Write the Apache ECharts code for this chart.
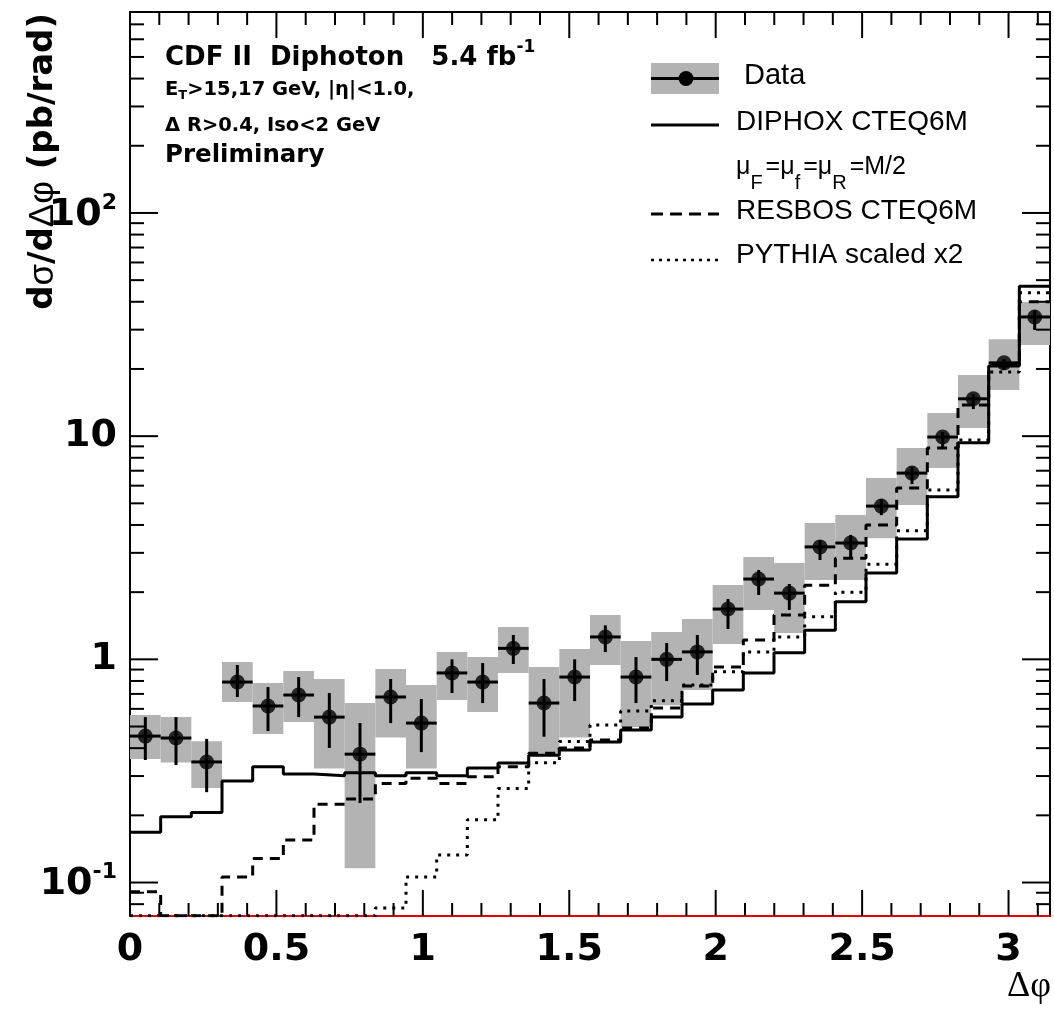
<!DOCTYPE html>
<html><head><meta charset="utf-8">
<script src="https://cdn.jsdelivr.net/npm/echarts@6/dist/echarts.min.js"></script>
<style>html,body{margin:0;padding:0;background:#fff}#c{width:1054px;height:1015px}</style>
</head><body><div id="c"></div>
<script>
// ---- bins (Δφ, 30 bins from 0 to π) ----
const BIN_EDGES = [0, 0.1047, 0.2094, 0.3142, 0.4189, 0.5236, 0.6283, 0.7330, 0.8378, 0.9425,
  1.0472, 1.1519, 1.2566, 1.3614, 1.4661, 1.5708, 1.6755, 1.7802, 1.8850, 1.9897,
  2.0944, 2.1991, 2.3038, 2.4086, 2.5133, 2.6180, 2.7227, 2.8274, 2.9322, 3.0369, 3.1416];

// ---- data (pb/rad) ----
const DATA_VALUE = [0.453,0.444,0.347,0.791,0.618,0.692,0.551,0.376,0.678,0.518,0.869,0.791,1.12,0.637,0.833,1.26,0.833,1.00,1.08,1.68,2.29,1.98,3.19,3.32,4.86,6.83,9.91,14.7,21.3,34.2];
const STAT_LOW   = [0.354,0.336,0.254,0.678,0.477,0.551,0.401,0.227,0.518,0.384,0.706,0.637,0.953,0.450,0.650,1.078,0.637,0.799,0.851,1.367,1.942,1.663,2.786,2.876,4.43,6.10,8.94,13.22,19.78,29.9];
const STAT_HIGH  = [0.551,0.551,0.440,0.943,0.751,0.833,0.706,0.518,0.816,0.664,1.00,0.962,1.285,0.816,1.00,1.42,1.024,1.183,1.285,1.863,2.512,2.175,3.42,3.61,5.23,7.27,10.43,15.44,22.15,36.7];
const TOT_LOW    = [0.358,0.345,0.265,0.644,0.463,0.524,0.324,0.116,0.447,0.324,0.657,0.581,0.868,0.376,0.447,0.943,0.497,0.622,0.729,1.171,1.663,1.312,2.266,2.266,3.49,4.91,7.20,10.87,16.09,25.6];
const TOT_HIGH   = [0.563,0.551,0.430,0.972,0.783,0.886,0.816,0.637,0.905,0.767,1.078,1.024,1.395,0.924,1.112,1.579,1.208,1.325,1.516,2.152,2.873,2.701,4.08,4.43,6.49,8.85,12.69,18.78,27.2,39.9];

// ---- theory predictions (pb/rad) ----
const DIPHOX = [0.168,0.197,0.206,0.285,0.330,0.306,0.301,0.310,0.301,0.310,0.301,0.326,0.343,0.372,0.392,0.426,0.482,0.551,0.630,0.728,0.869,1.07,1.35,1.81,2.44,3.46,5.35,9.34,20.6,47.0];
const RESBOS = [0.091,0.071,0.071,0.106,0.128,0.155,0.224,0.237,0.278,0.293,0.278,0.298,0.330,0.380,0.401,0.435,0.492,0.605,0.759,0.924,1.22,1.58,2.15,2.84,4.00,5.85,8.84,13.8,20.8,40.0];
const PYTHIA = [0.071,0.071,0.071,0.071,0.071,0.071,0.071,0.071,0.0769,0.106,0.133,0.191,0.264,0.344,0.428,0.508,0.587,0.653,0.767,0.880,1.08,1.26,1.55,2.00,2.67,3.77,5.73,9.60,19.4,43.9];

// ---- axes ----
const X_MAJOR_TICKS = [0,0.5,1,1.5,2,2.5,3];
const X_MINOR_TICKS = [0.1,0.2,0.3,0.4,0.6,0.7,0.8,0.9,1.1,1.2,1.3,1.4,1.6,1.7,1.8,1.9,2.1,2.2,2.3,2.4,2.6,2.7,2.8,2.9,3.1];
const Y_MAJOR_TICKS = [0.1,1,10,100];
const Y_MINOR_TICKS = [0.08,0.09,0.2,0.3,0.4,0.5,0.6,0.7,0.8,0.9,2,3,4,5,6,7,8,9,20,30,40,50,60,70,80,90,200,300,400,500,600,700];
const Y_TICK_LABELS = {'2':'{n|10}{sup|2}','1':'{n|10}','0':'{n|1}','-1':'{n|10}{sup|-1}'};
const Y_MIN = 0.0708, Y_MAX = 795;
const X_TITLE = 'Δφ';
const Y_TITLE = '{b|d}{s|σ}{b|/d}{s|Δφ}{b| (pb/rad)}';

const BOLD = 'DejaVu Sans';
const SANS = 'Liberation Sans';

function stepData(vals){
  const d = vals.map((v,i)=>[BIN_EDGES[i], v]);
  d.push([BIN_EDGES[vals.length], vals[vals.length-1]]);
  return d;
}
const boxData = TOT_LOW.map((lo,i)=>[BIN_EDGES[i], BIN_EDGES[i+1], lo, TOT_HIGH[i]]);
const errData = DATA_VALUE.map((v,i)=>[BIN_EDGES[i], BIN_EDGES[i+1], STAT_LOW[i], STAT_HIGH[i], v]);
const pointData = DATA_VALUE.map((v,i)=>[(BIN_EDGES[i]+BIN_EDGES[i+1])/2, v]);
const tickData = [].concat(
  X_MAJOR_TICKS.map(v=>[v,1,0]), X_MINOR_TICKS.map(v=>[v,1,1]),
  Y_MAJOR_TICKS.map(v=>[1,v,2]), Y_MINOR_TICKS.map(v=>[1,v,3]));

const chart = echarts.init(document.getElementById('c'), null, {renderer:'canvas'});

const K = '#000';
const option = {
  animation:false,
  backgroundColor:'#fff',
  grid:{left:130, right:4, top:12, bottom:99, show:true, borderColor:K, borderWidth:2, containLabel:false, outerBoundsMode:'none'},
  xAxis:{
    type:'value', min:0, max:Math.PI, interval:0.5,
    axisLine:{show:true, lineStyle:{color:'#e00000', width:2}},
    axisTick:{show:false}, splitLine:{show:false},
    axisLabel:{showMaxLabel:false, margin:15, color:K, fontFamily:BOLD, fontWeight:'bold', fontSize:38}
  },
  yAxis:{
    type:'log', logBase:10, min:Y_MIN, max:Y_MAX,
    axisLine:{show:true, lineStyle:{color:K, width:2}},
    axisTick:{show:false}, splitLine:{show:false}, minorTick:{show:false},
    axisLabel:{
      showMinLabel:false, showMaxLabel:false, margin:13, color:K,
      fontFamily:BOLD, fontWeight:'bold', fontSize:38,
      formatter:function(v){
        const l = Math.log10(v), e = Math.round(l);
        if (Math.abs(l-e) > 1e-6) return '';
        return Y_TICK_LABELS[String(e)] || '';
      },
      rich:{
        n:{fontFamily:BOLD, fontWeight:'bold', fontSize:38, color:K, verticalAlign:'bottom'},
        sup:{fontFamily:BOLD, fontWeight:'bold', fontSize:22, color:K, verticalAlign:'top', lineHeight:42}
      }
    }
  },
  series:[
    {type:'custom', name:'Data (total uncertainty)', z:1, clip:true, data:boxData,
     encode:{x:[0,1], y:[2,3]},
     renderItem:function(params, api){
       const p0 = api.coord([api.value(0), api.value(3)]);
       const p1 = api.coord([api.value(1), api.value(2)]);
       return {type:'rect', shape:{x:p0[0], y:p0[1], width:p1[0]-p0[0], height:p1[1]-p0[1]}, style:{fill:'#b3b3b3'}};
     }},
    {type:'line', name:'DIPHOX CTEQ6M', z:2, step:'end', symbol:'none', clip:true, data:stepData(DIPHOX),
     lineStyle:{color:K, width:3, type:'solid'}},
    {type:'line', name:'RESBOS CTEQ6M', z:2, step:'end', symbol:'none', clip:true, data:stepData(RESBOS),
     lineStyle:{color:K, width:3, type:[10,7]}},
    {type:'line', name:'PYTHIA scaled x2', z:2, step:'end', symbol:'none', clip:true, data:stepData(PYTHIA),
     lineStyle:{color:K, width:3, type:[3,6]}},
    {type:'custom', name:'Data errors', z:3, clip:true, data:errData,
     encode:{x:[0,1], y:[2,3,4]},
     renderItem:function(params, api){
       const a = api.coord([api.value(0), api.value(4)]);
       const b = api.coord([api.value(1), api.value(4)]);
       const xc = (a[0]+b[0])/2;
       const lo = api.coord([api.value(0), api.value(2)])[1];
       const hi = api.coord([api.value(0), api.value(3)])[1];
       const st = {stroke:K, lineWidth:3};
       return {type:'group', children:[
         {type:'line', shape:{x1:a[0], y1:a[1], x2:b[0], y2:b[1]}, style:st},
         {type:'line', shape:{x1:xc, y1:lo, x2:xc, y2:hi}, style:st}
       ]};
     }},
    {type:'scatter', name:'Data', z:4, symbol:'circle', symbolSize:15, data:pointData,
     itemStyle:{color:K}},
    {type:'custom', name:'ticks', z:5, clip:false, silent:true, data:tickData,
     encode:{x:0, y:1},
     renderItem:function(params, api){
       const cs = params.coordSys;
       const t = api.value(2);
       const st = {stroke:K, lineWidth:2};
       if (t < 2) {
         const x = api.coord([api.value(0), 1])[0];
         const L = t === 0 ? 26 : 13;
         const yb = cs.y + cs.height, yt = cs.y;
         return {type:'group', children:[
           {type:'line', shape:{x1:x, y1:yb, x2:x, y2:yb-L}, style:st},
           {type:'line', shape:{x1:x, y1:yt, x2:x, y2:yt+L}, style:st}]};
       } else {
         const y = api.coord([1, api.value(1)])[1];
         const L = t === 2 ? 28 : 14;
         const xl = cs.x, xr = cs.x + cs.width;
         return {type:'group', children:[
           {type:'line', shape:{x1:xl, y1:y, x2:xl+L, y2:y}, style:st},
           {type:'line', shape:{x1:xr, y1:y, x2:xr-L, y2:y}, style:st}]};
       }
     }}
  ],
  graphic:[
    // axis titles
    {type:'text', x:43, y:13, rotation:Math.PI/2, style:{text:Y_TITLE, align:'right', verticalAlign:'middle',
      rich:{b:{fontFamily:BOLD, fontWeight:'bold', fontSize:34, fill:K},
            s:{fontFamily:SANS, fontWeight:'normal', fontSize:35, fill:K}}}},
    {type:'text', x:1051, y:987, style:{text:X_TITLE, align:'right', verticalAlign:'middle',
      font:'36px "Liberation Serif"', fill:K}},
    // header text
    {type:'text', x:165, y:39, style:{text:'{b|CDF II  Diphoton   5.4 fb}{sup|-1}', verticalAlign:'top',
      rich:{b:{fontFamily:BOLD, fontWeight:'bold', fontSize:26, fill:K, verticalAlign:'bottom'},
            sup:{fontFamily:BOLD, fontWeight:'bold', fontSize:17, fill:K, verticalAlign:'top', lineHeight:32}}}},
    {type:'text', x:165, y:80, style:{text:'{b|E}{sub|T}{b|>15,17 GeV, |η|<1.0,}', verticalAlign:'top',
      rich:{b:{fontFamily:BOLD, fontWeight:'bold', fontSize:19.5, fill:K, verticalAlign:'top'},
            sub:{fontFamily:BOLD, fontWeight:'bold', fontSize:13, fill:K, verticalAlign:'bottom', lineHeight:22}}}},
    {type:'text', x:165, y:126, style:{text:'Δ R>0.4, Iso<2 GeV', verticalAlign:'middle',
      font:'bold 19.5px "DejaVu Sans"', fill:K}},
    {type:'text', x:165, y:156, style:{text:'Preliminary', verticalAlign:'middle',
      font:'bold 24.5px "DejaVu Sans"', fill:K}},
    // legend
    {type:'rect', shape:{x:651, y:63, width:68, height:31}, style:{fill:'#b3b3b3'}},
    {type:'line', shape:{x1:651, y1:78.5, x2:719, y2:78.5}, style:{stroke:K, lineWidth:3}},
    {type:'circle', shape:{cx:686, cy:78.5, r:7.5}, style:{fill:K}},
    {type:'text', x:744, y:76, style:{text:'Data', verticalAlign:'middle', font:'29px "Liberation Sans"', fill:K}},
    {type:'line', shape:{x1:651, y1:125, x2:719, y2:125}, style:{stroke:K, lineWidth:3}},
    {type:'text', x:736, y:122.5, style:{text:'DIPHOX CTEQ6M', verticalAlign:'middle', font:'28px "Liberation Sans"', fill:K}},
    {type:'text', x:736, y:155, style:{text:'{n|μ}{s|F}{n|=μ}{s|f}{n|=μ}{s|R}{n|=M/2}', verticalAlign:'top',
      rich:{n:{fontFamily:SANS, fontSize:25, fill:K, verticalAlign:'top'},
            s:{fontFamily:SANS, fontSize:20, fill:K, verticalAlign:'bottom', lineHeight:38, padding:[0,3,0,0]}}}},
    {type:'line', shape:{x1:651, y1:214, x2:719, y2:214}, style:{stroke:K, lineWidth:3, lineDash:[12,7]}},
    {type:'text', x:736, y:211.5, style:{text:'RESBOS CTEQ6M', verticalAlign:'middle', font:'28px "Liberation Sans"', fill:K}},
    {type:'line', shape:{x1:651, y1:260, x2:719, y2:260}, style:{stroke:K, lineWidth:2.5, lineDash:[3,5]}},
    {type:'text', x:736, y:255, style:{text:'PYTHIA scaled x2', verticalAlign:'middle', font:'28px "Liberation Sans"', fill:K}}
  ]
};
chart.setOption(option);
</script></body></html>
